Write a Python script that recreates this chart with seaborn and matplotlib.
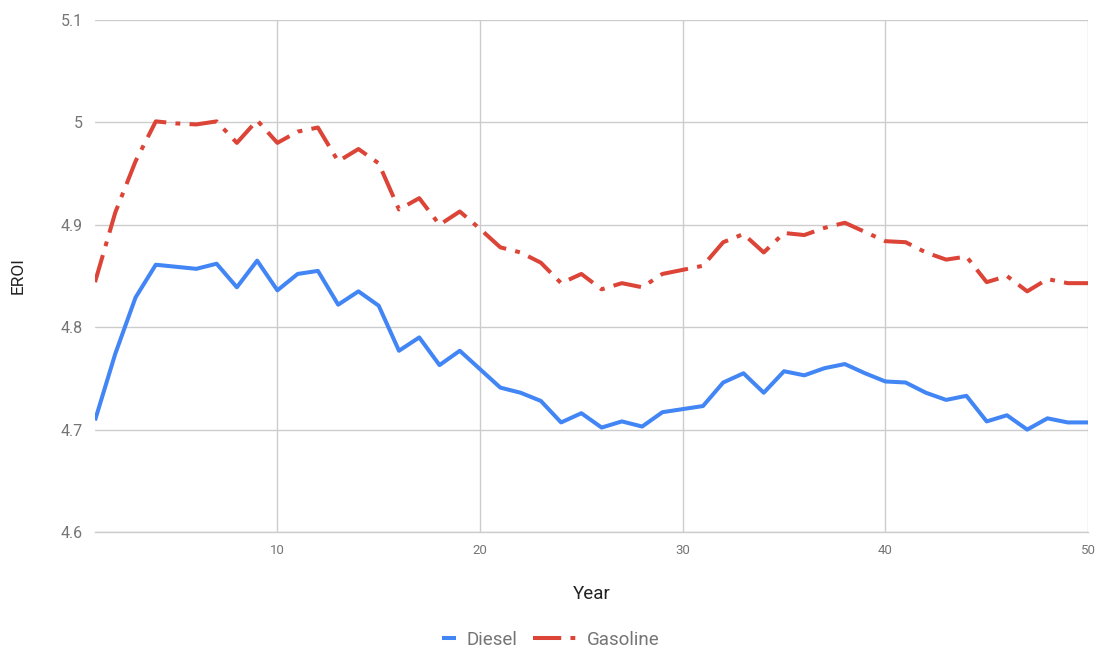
import numpy as np
import pandas as pd
import matplotlib
matplotlib.use("Agg")
import matplotlib.pyplot as plt
import seaborn as sns
from matplotlib.lines import Line2D
from matplotlib.legend_handler import HandlerLine2D

years = list(range(1, 51))
diesel = [4.709, 4.774, 4.829, 4.861, 4.859, 4.857, 4.862, 4.839, 4.865, 4.836,
          4.852, 4.855, 4.822, 4.835, 4.821, 4.777, 4.790, 4.763, 4.777, 4.759,
          4.741, 4.736, 4.728, 4.707, 4.716, 4.702, 4.708, 4.703, 4.717, 4.720,
          4.723, 4.746, 4.755, 4.736, 4.757, 4.753, 4.760, 4.764, 4.755, 4.747,
          4.746, 4.736, 4.729, 4.733, 4.708, 4.714, 4.700, 4.711, 4.707, 4.707]
gasoline = [4.844, 4.912, 4.962, 5.001, 4.999, 4.998, 5.001, 4.980, 5.002, 4.980,
            4.991, 4.995, 4.962, 4.974, 4.960, 4.915, 4.926, 4.900, 4.913, 4.896,
            4.878, 4.873, 4.863, 4.843, 4.852, 4.837, 4.843, 4.839, 4.852, 4.856,
            4.860, 4.883, 4.891, 4.873, 4.892, 4.890, 4.897, 4.902, 4.893, 4.884,
            4.883, 4.873, 4.866, 4.869, 4.844, 4.850, 4.835, 4.847, 4.843, 4.843]
series_names = ["Diesel", "Gasoline"]
y_ticks = [4.6, 4.7, 4.8, 4.9, 5.0, 5.1]
y_tick_labels = ["4.6", "4.7", "4.8", "4.9", "5", "5.1"]
x_ticks = [10, 20, 30, 40, 50]

df = pd.DataFrame({
    "Year": years * 2,
    "EROI": diesel + gasoline,
    "Fuel": [series_names[0]] * len(years) + [series_names[1]] * len(years),
})

sns.set_theme(style="white")
plt.rcParams["font.family"] = ["Roboto", "DejaVu Sans"]

colors = {"Diesel": "#4285F4", "Gasoline": "#DB4437"}
lw = 2.9
dash_dot = (7.0, 2.3, 1.2, 2.3)


class ShortHandle(HandlerLine2D):
    """Legend handle drawn only over the right part of the handle box."""

    def __init__(self, frac, **kw):
        super().__init__(**kw)
        self.frac = frac

    def create_artists(self, legend, orig_handle, xdescent, ydescent,
                       width, height, fontsize, trans):
        artists = super().create_artists(legend, orig_handle, xdescent, ydescent,
                                         width, height, fontsize, trans)
        for a in artists:
            if isinstance(a, Line2D):
                x = np.asarray(a.get_xdata(), dtype=float)
                if x.size >= 2:
                    x0, x1 = x[0], x[-1]
                    a.set_xdata(np.linspace(x1 - (x1 - x0) * self.frac, x1, x.size))
        return artists


fig = plt.figure(figsize=(10.96, 6.49), dpi=100)
ax = fig.add_axes([95 / 1096, 1 - 532 / 649, (1088 - 95) / 1096, (532 - 20) / 649])

sns.lineplot(data=df, x="Year", y="EROI", hue="Fuel", style="Fuel",
             palette=colors, dashes={"Diesel": "", "Gasoline": dash_dot},
             linewidth=lw, ax=ax, legend=False)
for line in ax.get_lines():
    line.set_solid_capstyle("butt")
    line.set_dash_capstyle("butt")

ax.set_xlim(1, 50)
ax.set_ylim(4.6, 5.1)
ax.set_yticks(y_ticks)
ax.set_yticklabels(y_tick_labels)
ax.set_xticks(x_ticks)
ax.set_xticklabels([str(t) for t in x_ticks])

grid_col = "#cccccc"
ax.grid(True, color=grid_col, linewidth=1)
ax.set_axisbelow(True)
for s in ["top", "right", "left"]:
    ax.spines[s].set_visible(False)
ax.spines["bottom"].set_color(grid_col)
ax.spines["bottom"].set_linewidth(1)

ax.tick_params(axis="y", length=0, pad=9, labelsize=11.5, labelcolor="#757575")
ax.tick_params(axis="x", length=0, pad=9, labelsize=9.5, labelcolor="#757575")

ax.set_xlabel("Year", fontsize=13.5, color="#222222", labelpad=20)
ax.set_ylabel("EROI", fontsize=12.5, color="#222222", labelpad=25)

handles = [
    Line2D([], [], color=colors["Diesel"], linewidth=lw, solid_capstyle="butt"),
    Line2D([], [], color=colors["Gasoline"], linewidth=lw, dashes=dash_dot,
           dash_capstyle="butt"),
]
fig.legend(handles, series_names, loc="center",
           bbox_to_anchor=(536 / 1096, 1 - 640 / 649),
           ncol=2, frameon=False, fontsize=13.5, labelcolor="#757575",
           handlelength=2.3, columnspacing=0.85, handletextpad=0.55,
           handler_map={handles[0]: ShortHandle(0.33)})

fig.savefig("out.png", dpi=100, facecolor="white")
